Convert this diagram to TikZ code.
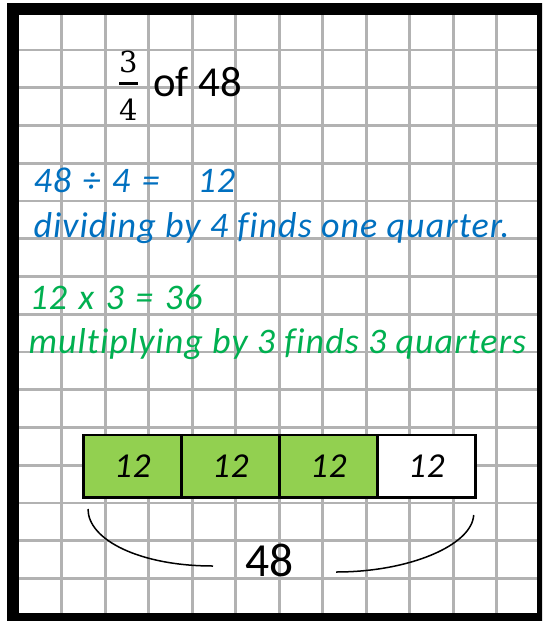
\documentclass[tikz,border=0pt]{standalone}
\usepackage{fontspec}
\setmainfont{Carlito}
\newfontfamily\handfont{Carlito}[LetterSpace=3,Ligatures=NoCommon]
\newfontfamily\fracfont{DejaVu Serif}
\newcommand\widespaces{\spaceskip=11.5pt\relax}
\usetikzlibrary{positioning}
\definecolor{qblue}{HTML}{0070C0}
\definecolor{qgreen}{HTML}{00B050}
\definecolor{boxgreen}{HTML}{92D050}

\begin{document}
\begin{tikzpicture}[x=1pt,y=-1pt,
  gridline/.style={line width=2.6pt,black!30},
  say/.style={anchor=base west,inner sep=0pt,font=\handfont\fontsize{36}{40}\selectfont\itshape},
  sum/.style={say,font=\handfont\fontsize{36}{40}\selectfont\itshape\widespaces},
  part/.style={draw,line width=2.5pt,minimum width=98pt,minimum height=62.3pt,
    inner sep=0pt,outer sep=0pt,font=\handfont\fontsize{35}{40}\selectfont\itshape},
  brace/.style={line width=1.5pt}]
  \useasboundingbox (0,0) rectangle (542,621);
  \clip (0,0) rectangle (542,621);
  \fill[white] (0,0) rectangle (542,621);
  \foreach \gx in {0,...,10}
    \draw[gridline] ({61.7+43.5*\gx},15) -- ({61.7+43.5*\gx},613);
  \foreach \gy in {0,...,14}
    \draw[gridline] (19,{50+37.75*\gy}) -- (537,{50+37.75*\gy});
  \draw[line width=12pt] (13,9) rectangle (543,619);

  \node[anchor=base,inner sep=0pt,font=\fracfont\fontsize{29}{32}\selectfont] (num) at (128.3,72) {3};
  \node[anchor=base,inner sep=0pt,font=\fracfont\fontsize{29}{32}\selectfont] (den) at (128.3,120) {4};
  \draw[line width=3pt] (119,83.3) -- (137.7,83.3);
  \node[anchor=base west,inner sep=0pt,font=\fontsize{42.7}{48}\selectfont] (of) at (153,96.7) {of 48};

  \node[sum,qblue] (divide) at (33.3,192.3) {48 ÷ 4 =\hspace{38pt}12};
  \node[say,qblue] (quarter) at (33.3,237.3) {dividing by 4 finds one quarter.};
  \node[sum,qgreen] (times) at (29.3,309.3) {12 x 3 = 36};
  \node[say,qgreen] (quarters) at (28.3,353.3) {multiplying by 3 finds 3 quarters};

  \node[part,fill=boxgreen] (q1) at (132.3,466.2) {12};
  \node[part,fill=boxgreen,right=0pt of q1] (q2) {12};
  \node[part,fill=boxgreen,right=0pt of q2] (q3) {12};
  \node[part,fill=white,right=0pt of q3] (q4) {12};

  \node[anchor=base,inner sep=0pt,font=\fontsize{47.5}{52}\selectfont] (total) at (269.2,576) {48};
  \coordinate (braceL) at (88,509);
  \coordinate (braceLend) at (213,566);
  \coordinate (braceR) at (473.7,515);
  \coordinate (braceRend) at (336,572);
  \draw[brace] (braceL) .. controls +(0,31) and +(-73,0) .. (braceLend);
  \draw[brace] (braceR) .. controls +(-1.7,30) and +(74,0) .. (braceRend);
\end{tikzpicture}
\end{document}
